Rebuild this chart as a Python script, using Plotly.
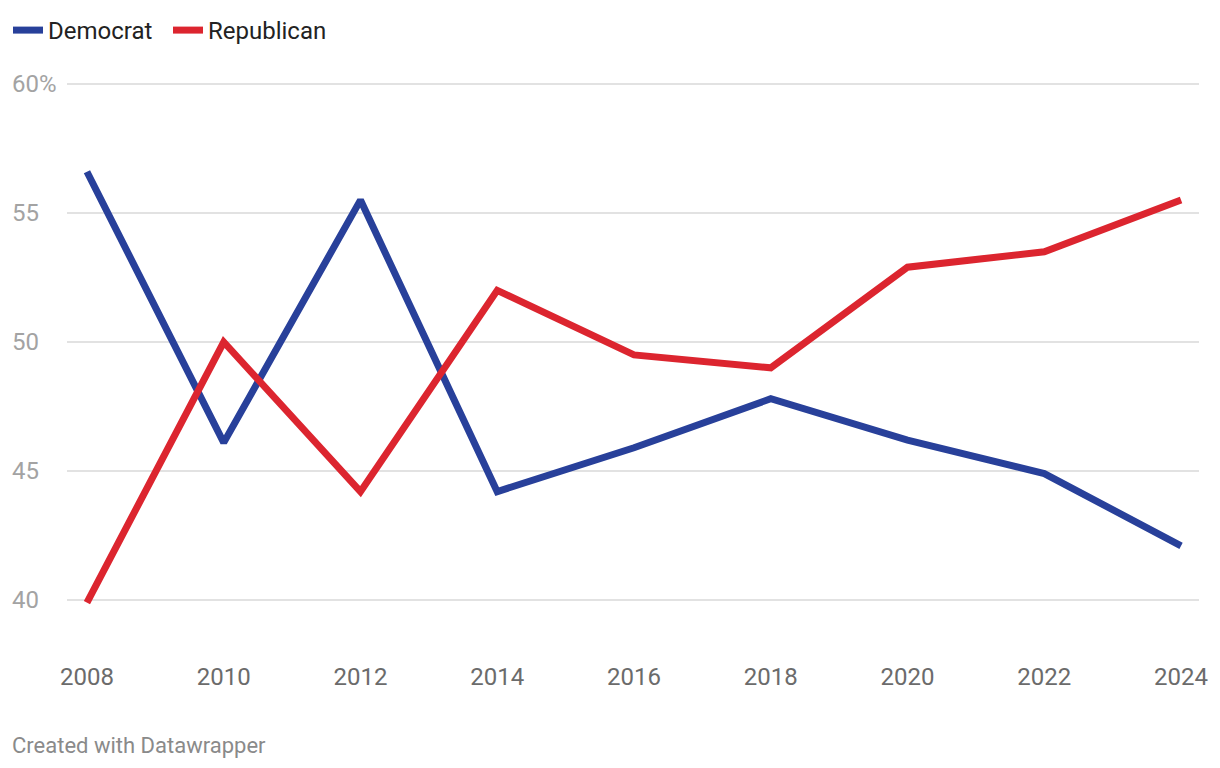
import plotly.graph_objects as go

years = [2008, 2010, 2012, 2014, 2016, 2018, 2020, 2022, 2024]
democrat = [56.6, 46.1, 55.5, 44.2, 45.9, 47.8, 46.2, 44.9, 42.1]
republican = [39.9, 50.0, 44.2, 52.0, 49.5, 49.0, 52.9, 53.5, 55.5]
y_ticks = [40, 45, 50, 55, 60]
y_tick_labels = ["40", "45", "50", "55", "60%"]
x_ticks = years

OFF = 8  # page body margin
SW, SH = 1220, 768
W, H = SW - OFF, SH - OFF
# plot area in screen coords: x 67..1202, y 80..640
PL, PR, PT, PB = 67, 1202, 80, 640
L, R, T, B = PL - OFF, SW - PR - 4, PT - OFF, SH - PB
plot_w = PR - PL
plot_h = PB - PT
px_per_year = (1184 - 87) / 16
px_per_unit = (600 - 84) / 20
x0 = 2008 - (87 - PL) / px_per_year
x1 = 2024 + (PR - 1184) / px_per_year
y_top = 60 + (84 - PT) / px_per_unit
y_bot = 40 - (PB - 600) / px_per_unit

fig = go.Figure()
fig.add_trace(go.Scatter(x=years, y=democrat, name="Democrat", mode="lines",
                         line=dict(color="#28409a", width=7), cliponaxis=False))
fig.add_trace(go.Scatter(x=years, y=republican, name="Republican", mode="lines",
                         line=dict(color="#dc252f", width=7), cliponaxis=False))

for v, lab in zip(y_ticks, y_tick_labels):
    fig.add_annotation(x=(10 - PL) / plot_w, xref="paper", y=v, yref="y", text=lab,
                       showarrow=False, xanchor="left", yanchor="middle",
                       font=dict(family="Roboto", size=24, color="#a3a3a3"))

fig.add_annotation(x=(10 - PL) / plot_w, xref="paper", y=(PB - 745) / plot_h, yref="paper",
                   text="Created with Datawrapper", showarrow=False, xanchor="left",
                   yanchor="middle", font=dict(family="Roboto", size=22, color="#8a8a8a"))

fig.update_layout(
    width=W, height=H,
    margin=dict(l=L, r=R, t=T, b=B),
    paper_bgcolor="white", plot_bgcolor="white",
    font=dict(family="Roboto", color="#333"),
    showlegend=True,
    legend=dict(orientation="h", xref="container", yref="container", x=0.0, y=1.0,
                xanchor="left", yanchor="top", font=dict(size=24, color="#222"),
                itemwidth=30, entrywidth=115, tracegroupgap=0, bgcolor="rgba(0,0,0,0)"),
    xaxis=dict(range=[x0, x1], tickvals=x_ticks, ticktext=[str(y) for y in x_ticks],
               showgrid=False, zeroline=False, showline=False,
               ticks="outside", ticklen=15, tickcolor="rgba(0,0,0,0)",
               tickfont=dict(family="Roboto", size=24, color="#6b6b6b")),
    yaxis=dict(range=[y_bot, y_top], tickvals=y_ticks, showticklabels=False,
               showgrid=True, gridcolor="#e2e2e2", gridwidth=1.5,
               zeroline=False, showline=False),
)

fig.write_html("out.html")
